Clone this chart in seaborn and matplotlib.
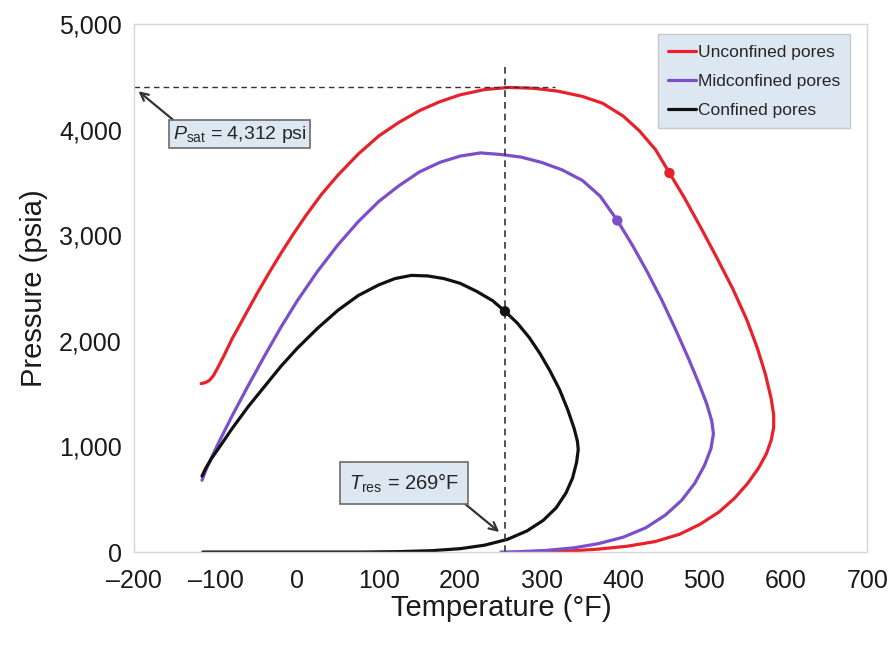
import pandas as pd
import matplotlib.pyplot as plt
import seaborn as sns

# phase envelopes: temperature (F) and pressure (psia)
unconf_t = [-118, -113, -108, -103, -98, -90, -80, -65, -50, -35, -20, -5, 10, 30, 50, 75, 100, 125,
            150, 175, 200, 230, 260, 290, 320, 350, 375, 400, 420, 440, 457, 475, 495, 515, 535, 552,
            565, 575, 582, 585, 585, 582, 576, 566, 553, 537, 518, 495, 470, 440, 405, 370, 335, 300]
unconf_p = [1595, 1605, 1625, 1670, 1740, 1860, 2020, 2230, 2440, 2640, 2830, 3010, 3180, 3390, 3570,
            3770, 3940, 4070, 4180, 4265, 4330, 4380, 4400, 4392, 4365, 4315, 4250, 4130, 3990, 3810,
            3590, 3360, 3080, 2790, 2490, 2200, 1930, 1680, 1450, 1300, 1180, 1060, 930, 790, 650,
            510, 380, 265, 170, 100, 55, 28, 10, 2]

mid_t = [-117, -112, -105, -95, -80, -60, -40, -20, 0, 25, 50, 75, 100, 125, 150, 175, 200, 225, 250,
         275, 300, 325, 350, 372, 393, 412, 430, 448, 465, 480, 493, 503, 509, 511, 508, 500, 488, 472,
         452, 428, 400, 370, 340, 305, 270, 250]
mid_p = [680, 780, 900, 1060, 1290, 1580, 1860, 2130, 2380, 2660, 2910, 3130, 3320, 3470, 3600, 3690,
         3750, 3780, 3765, 3740, 3690, 3620, 3520, 3370, 3140, 2900, 2650, 2380, 2100, 1840, 1600,
         1400, 1240, 1120, 980, 820, 650, 490, 350, 230, 140, 80, 40, 15, 3, 0]

conf_t = [-117, -112, -105, -95, -80, -60, -40, -20, 0, 25, 50, 75, 100, 120, 140, 160, 180, 200, 220,
          240, 255, 270, 285, 298, 310, 322, 332, 340, 344, 345, 343, 338, 330, 318, 302, 282, 258,
          230, 200, 165, 125, 80, -116]
conf_p = [720, 800, 890, 1000, 1170, 1380, 1570, 1760, 1930, 2120, 2290, 2430, 2530, 2590, 2620, 2615,
          2590, 2545, 2470, 2380, 2280, 2170, 2030, 1880, 1720, 1540, 1350, 1170, 1050, 970, 850, 700,
          560, 420, 300, 200, 120, 65, 32, 13, 4, 0, 0]

series_names = ['Unconfined pores', 'Midconfined pores', 'Confined pores']
series_colors = ['#e8222b', '#7b4fc9', '#111111']

# marked points on each envelope
dot_t = [457, 393, 255]
dot_p = [3590, 3140, 2280]

# reference values
t_res_line = 255
p_sat_line = 4400
p_sat_text = '$P_{\\mathrm{sat}}$ = 4,312 psi'
t_res_text = '$T_{\\mathrm{res}}$ = 269°F'

x_ticks = list(range(-200, 701, 100))
y_ticks = list(range(0, 5001, 1000))

frames = []
for name, t, p in zip(series_names, [unconf_t, mid_t, conf_t], [unconf_p, mid_p, conf_p]):
    frames.append(pd.DataFrame({'T': t, 'P': p, 'pore': name}))
env = pd.concat(frames, ignore_index=True)
dots = pd.DataFrame({'T': dot_t, 'P': dot_p, 'pore': series_names})

sns.set_style('white')
plt.rcParams['font.family'] = ['Liberation Sans', 'DejaVu Sans']
plt.rcParams['mathtext.fontset'] = 'custom'
plt.rcParams['mathtext.rm'] = 'Liberation Sans'
plt.rcParams['mathtext.it'] = 'Liberation Sans:italic'

fig, ax = plt.subplots(figsize=(8.96, 6.51), dpi=100)
fig.subplots_adjust(left=0.150, right=0.968, bottom=0.152, top=0.963)

palette = dict(zip(series_names, series_colors))
sns.lineplot(data=env, x='T', y='P', hue='pore', hue_order=series_names, palette=palette,
             sort=False, estimator=None, lw=2.3, ax=ax)
sns.scatterplot(data=dots, x='T', y='P', hue='pore', hue_order=series_names, palette=palette,
                s=55, edgecolor='none', legend=False, zorder=5, ax=ax)

# reference dashed lines
ax.hlines(p_sat_line, x_ticks[0], 316, colors='#333333', linestyles=(0, (4, 3)), lw=1)
ax.vlines(t_res_line, 0, 4600, colors='#333333', linestyles=(0, (4, 3)), lw=1.2)

ax.annotate(p_sat_text, xy=(-195, 4364), xytext=(-71, 3956), fontsize=14, ha='center', va='center',
            bbox=dict(boxstyle='square,pad=0.18', fc='#dde7f2', ec='#6b6b6b', lw=1.2),
            arrowprops=dict(arrowstyle='->', color='#333333', lw=1.6, shrinkA=0, shrinkB=0,
                            relpos=(0.04, 1)))
ax.annotate(t_res_text, xy=(248, 190), xytext=(131, 655), fontsize=14.5, ha='center', va='center',
            bbox=dict(boxstyle='square,pad=0.45', fc='#dde7f2', ec='#6b6b6b', lw=1.2),
            arrowprops=dict(arrowstyle='->', color='#333333', lw=1.6, shrinkA=0, shrinkB=0,
                            relpos=(0.95, 0)))

ax.set_xlim(x_ticks[0], x_ticks[-1])
ax.set_ylim(y_ticks[0], y_ticks[-1])
ax.set_xticks(x_ticks)
ax.set_yticks(y_ticks)
ax.set_xticklabels([f'{v}'.replace('-', '\u2013') for v in x_ticks])
ax.set_yticklabels([f'{v:,}' for v in y_ticks])
ax.tick_params(direction='in', length=4, color='#cccccc', labelsize=18, labelcolor='#1a1a1a')
ax.tick_params(axis='x', pad=12)
ax.tick_params(axis='y', pad=9)
for sp in ax.spines.values():
    sp.set_color('#d6d6d6')
    sp.set_linewidth(1)
ax.set_xlabel('Temperature (°F)', fontsize=21, labelpad=1, color='#1a1a1a')
ax.set_ylabel('Pressure (psia)', fontsize=21, labelpad=8, color='#1a1a1a')

leg = ax.legend(loc='upper right', bbox_to_anchor=(0.977, 0.981), borderaxespad=0, fontsize=12.5,
                frameon=True, fancybox=False, handlelength=1.6, handletextpad=0.1, borderpad=0.6,
                labelspacing=0.8)
leg.get_frame().set_facecolor('#dde7f2')
leg.get_frame().set_edgecolor('#c8c8c8')
leg.get_frame().set_alpha(1)
for line in leg.get_lines():
    line.set_linewidth(2.3)

fig.savefig('out.png', dpi=100)
